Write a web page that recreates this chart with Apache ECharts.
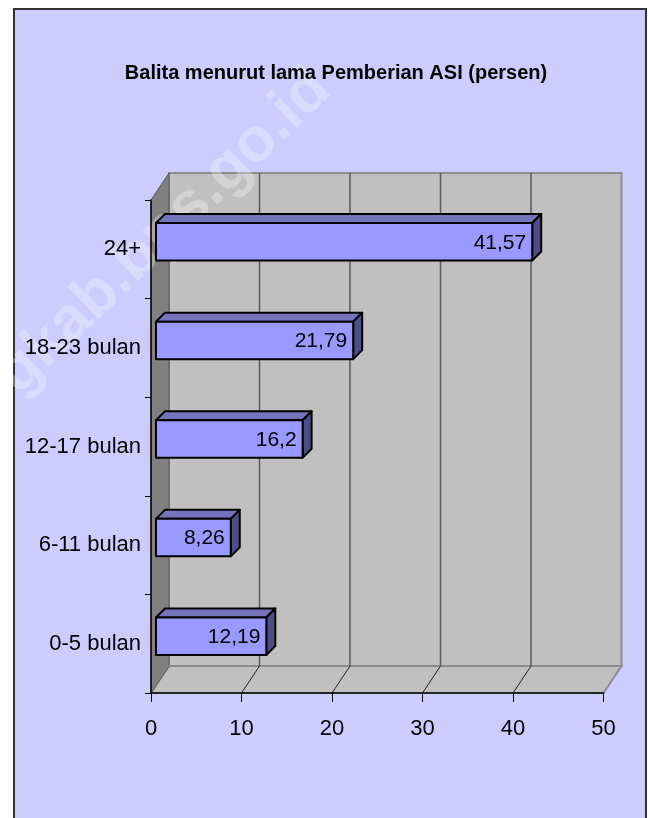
<!DOCTYPE html>
<html>
<head>
<meta charset="utf-8">
<script src="https://cdn.jsdelivr.net/npm/echarts@6/dist/echarts.min.js"></script>
<style>
html,body{margin:0;padding:0;background:#ffffff;}
#chart{width:648px;height:818px;}
</style>
</head>
<body>
<div id="chart"></div>
<script>
// ---- data ----
var titleText = 'Balita menurut lama Pemberian ASI (persen)';
var categories = ['0-5 bulan', '6-11 bulan', '12-17 bulan', '18-23 bulan', '24+'];
var values = [12.19, 8.26, 16.2, 21.79, 41.57];
var xTicks = [0, 10, 20, 30, 40, 50];
var watermarkText = 'gkab.bps.go.id';

var FONT = '"Liberation Sans", Arial, sans-serif';
var BG = '#CCCCFF';
var WALL = '#C0C0C0';
var SIDE = '#808080';
var DEPTH = [18, -27];     // wall depth offset
var BAR_OFF = [5, -7.5];   // bar front face offset
var BAR_D = [9, -9];       // bar depth

function fmt(v) { return String(v).replace('.', ','); }

var chart = echarts.init(document.getElementById('chart'), null, {renderer: 'canvas'});

var option = {
  backgroundColor: '#ffffff',
  animation: false,
  title: {
    text: titleText,
    left: 331, top: 58,
    textAlign: 'center',
    textStyle: {fontFamily: FONT, fontWeight: 'bold', fontSize: 20, color: '#000'}
  },
  graphic: [
    {type: 'rect', z: -10, shape: {x: 14, y: 9, width: 632, height: 830},
     style: {fill: BG, stroke: '#333', lineWidth: 2}},
    {type: 'text', z: 1.5, x: 164, y: 232, rotation: 44 * Math.PI / 180,
     style: {text: watermarkText, fontFamily: FONT, fontWeight: 'bold',
             fontSize: 62, fill: 'rgba(255,255,255,0.3)', align: 'center', verticalAlign: 'middle'}}
  ],
  grid: {left: 151, top: 200, width: 452.5, height: 493, containLabel: false},
  xAxis: {
    type: 'value', min: 0, max: 50, interval: 10, z: 10,
    axisLine: {show: true, lineStyle: {color: '#000', width: 1.5}},
    axisTick: {show: true, length: 9, lineStyle: {color: '#000', width: 1}},
    splitLine: {show: false},
    axisLabel: {margin: 25, fontFamily: FONT, fontSize: 22, color: '#000',
                customValues: xTicks}
  },
  yAxis: {
    type: 'category', data: categories, z: 10,
    axisLine: {show: true, lineStyle: {color: '#000', width: 1.5}},
    axisTick: {show: true, length: 6, lineStyle: {color: '#000', width: 1}},
    splitLine: {show: false},
    axisLabel: {margin: 10, fontFamily: FONT, fontSize: 22, color: '#000'}
  },
  series: [
    {
      type: 'custom', name: 'walls', z: 1, silent: true,
      data: [[0, 0]],
      renderItem: function (params, api) {
        var cs = params.coordSys;
        var x = cs.x, y = cs.y, w = cs.width, h = cs.height;
        var dx = DEPTH[0], dy = DEPTH[1];
        var children = [];
        children.push({type: 'rect', shape: {x: x + dx, y: y + dy, width: w, height: h},
          style: {fill: WALL, stroke: '#8c8c8c', lineWidth: 2}});
        children.push({type: 'polygon', shape: {points: [[x, y], [x + dx, y + dy], [x + dx, y + h + dy], [x, y + h]]},
          style: {fill: SIDE, stroke: '#555', lineWidth: 1}});
        children.push({type: 'polygon', shape: {points: [[x, y + h], [x + w, y + h], [x + w + dx, y + h + dy], [x + dx, y + h + dy]]},
          style: {fill: WALL, stroke: '#8c8c8c', lineWidth: 2}});
        for (var i = 1; i < xTicks.length - 1; i++) {
          var px = api.coord([xTicks[i], 0])[0];
          children.push({type: 'line', shape: {x1: px + dx, y1: y + dy, x2: px + dx, y2: y + h + dy},
            style: {stroke: '#5a5a5a', lineWidth: 1.5}});
          children.push({type: 'line', shape: {x1: px, y1: y + h, x2: px + dx, y2: y + h + dy},
            style: {stroke: '#222', lineWidth: 1}});
        }
        children.push({type: 'line', shape: {x1: x, y1: y + h, x2: x + dx, y2: y + h + dy},
          style: {stroke: '#555', lineWidth: 1}});
        return {type: 'group', children: children};
      }
    },
    {
      type: 'custom', name: 'Persen', z: 3,
      data: values.map(function (v, i) { return [v, i]; }),
      encode: {x: 0, y: 1},
      renderItem: function (params, api) {
        var v = api.value(0), ci = api.value(1);
        var p0 = api.coord([0, ci]);
        var p1 = api.coord([v, ci]);
        var band = api.size([0, 1])[1];
        var bh = band * 0.38;
        var x0 = p0[0] + BAR_OFF[0], x1 = p1[0] + BAR_OFF[0];
        var cy = p0[1] + BAR_OFF[1];
        var y0 = cy - bh / 2, y1 = cy + bh / 2;
        var ddx = BAR_D[0], ddy = BAR_D[1];
        var st = {stroke: '#000', lineWidth: 2, lineJoin: 'round'};
        return {type: 'group', children: [
          {type: 'polygon', shape: {points: [[x0, y0], [x1, y0], [x1 + ddx, y0 + ddy], [x0 + ddx, y0 + ddy]]},
            style: Object.assign({fill: '#7474BD'}, st)},
          {type: 'polygon', shape: {points: [[x1, y0], [x1 + ddx, y0 + ddy], [x1 + ddx, y1 + ddy], [x1, y1]]},
            style: Object.assign({fill: '#4E4E86'}, st)},
          {type: 'rect', shape: {x: x0, y: y0, width: x1 - x0, height: y1 - y0},
            style: Object.assign({fill: '#9999FF'}, st)},
          {type: 'text', x: x1 - 6, y: cy + 1,
            style: {text: fmt(v), fontFamily: FONT, fontSize: 21, fill: '#000', align: 'right', verticalAlign: 'middle'}}
        ]};
      }
    }
  ]
};
chart.setOption(option);
</script>
</body>
</html>
